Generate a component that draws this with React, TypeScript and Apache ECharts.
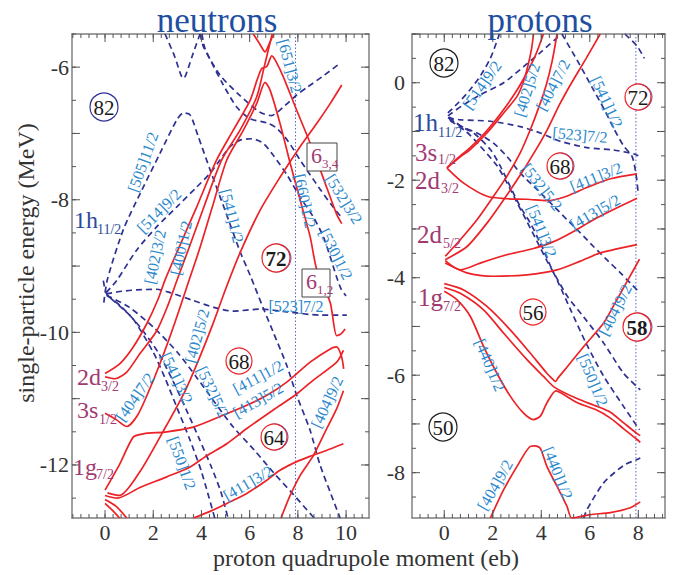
import React, { useEffect, useRef } from "react";
import * as echarts from "echarts";

const FONT = '"Liberation Serif", "Times New Roman", serif';
const RED = "#ec2227";
const NAVY = "#2e3192";
const LABEL_BLUE = "#2a88cc";
const PURPLE = "#a23a72";
const TITLE_BLUE = "#1f4fa0";
const FRAME = "#808080";
const TICK = "#555555";

// ---------- axes ----------
const NEUTRON_X_RANGE = [-1.37, 10.95];
const NEUTRON_Y_RANGE = [-12.8, -5.5];
const PROTON_X_RANGE = [-1.33, 9.1];
const PROTON_Y_RANGE = [-8.93, 1.0];
const NEUTRON_X_LABELS = [0, 2, 4, 6, 8, 10];
const PROTON_X_LABELS = [0, 2, 4, 6, 8];
const NEUTRON_Y_LABELS = [-12, -10, -8, -6];
const PROTON_Y_LABELS = [-8, -6, -4, -2, 0];
const Q_MARK = 7.9;

// ---------- neutrons: positive parity (red, solid) ----------
const n2d32Upper = [[0,-10.62],[0.62,-10.47],[1.17,-10.22],[1.73,-9.87],[2.2,-9.5],[2.5,-9.2],[3.08,-8.71],[3.8,-8.11],[4.63,-7.4],[5.32,-6.95],[6.02,-6.5],[6.3,-6.2],[6.5,-6.02],[6.71,-5.99],[6.92,-5.83],[7.1,-5.92],[7.4,-6.15],[7.95,-6.65],[8.37,-7.02],[8.78,-7.4],[9.2,-7.82],[9.61,-8.22],[9.82,-8.36]];
const n2d32Lower = [[0,-10.67],[0.41,-10.7],[0.9,-10.6],[1.45,-10.32],[2.14,-9.98],[2.6,-9.6],[3.0,-9.2],[3.5,-8.71],[4.1,-8.11],[4.84,-7.4],[5.6,-6.95],[6.29,-6.45],[6.6,-6.0],[6.92,-5.52],[6.94,-5.5]];
const n3s12 = [[0,-11.22],[0.48,-11.32],[0.9,-11.42],[1.35,-11.25],[1.8,-10.9],[2.3,-10.45],[2.9,-9.85],[3.5,-9.2],[3.95,-8.71],[4.45,-8.11],[5.05,-7.4],[5.74,-6.95],[6.29,-6.55],[6.64,-6.23],[6.85,-6.35],[7.26,-6.85],[7.68,-7.45],[8.09,-8.0],[8.51,-8.56],[8.78,-9.05],[9.34,-9.55],[9.61,-10.05],[9.8,-10.02],[9.96,-9.95]];
const nTopV = [[6.15,-5.5],[6.4,-5.64],[6.64,-5.77],[6.82,-5.64],[7.0,-5.5]];
const n402_52 = [[0.1,-12.42],[0.6,-12.46],[1.45,-12.1],[2.4,-11.5],[3.3,-10.9],[3.9,-10.4],[4.5,-9.85],[5.0,-9.35],[5.6,-8.8],[6.43,-8.16],[7.26,-7.66],[8.09,-7.2],[8.78,-6.85],[9.34,-6.55],[9.82,-6.27]];
const n1gA = [[0,-12.38],[0.62,-11.98],[1.17,-11.58],[1.59,-11.53],[2.56,-11.5],[3.66,-11.43],[4.77,-11.27],[5.88,-11.1],[6.71,-10.95],[7.54,-10.75],[8.51,-10.45],[9.34,-10.25],[9.6,-10.22],[9.8,-10.35],[9.9,-10.55]];
const n1gB = [[0,-12.46],[0.5,-12.5],[1.45,-12.34],[2.56,-12.18],[3.53,-12.03],[4.22,-11.86],[5.05,-11.68],[5.88,-11.45],[6.98,-11.17],[7.95,-10.93],[8.64,-10.72],[9.61,-10.45],[9.89,-10.27]];
const n1gC = [[0,-12.52],[0.45,-12.62],[0.9,-12.8]];
const n1gD = [[0,-12.58],[0.35,-12.7],[0.6,-12.8]];
const n411_32 = [[3.66,-12.8],[4.36,-12.7],[5.05,-12.58],[5.88,-12.43],[6.71,-12.23],[7.26,-12.08],[7.95,-11.95],[8.5,-11.87],[9.34,-11.76],[9.89,-11.68]];
const n404_92 = [[7.3,-12.8],[7.68,-12.46],[8.09,-12.16],[8.64,-11.86],[9.2,-11.45],[9.61,-11.15],[9.89,-10.88]];

// ---------- neutrons: negative parity (navy, dashed) ----------
const nTopDashV = [[2.49,-5.5],[2.9,-5.85],[3.15,-6.12],[3.25,-6.17],[3.35,-6.12],[3.6,-5.85],[3.94,-5.5]];
const nUpperArc = [[3.95,-5.5],[4.08,-5.69],[4.77,-6.12],[5.6,-6.43],[6.43,-6.68],[6.9,-6.73],[7.4,-6.6],[7.95,-6.42],[8.4,-6.3],[9.1,-6.12],[9.75,-5.94]];
const n532_32 = [[4.02,-5.5],[4.15,-5.72],[4.88,-6.25],[5.46,-6.6],[6.02,-6.78],[6.71,-6.84],[7.12,-6.92],[7.6,-7.12],[8.09,-7.4],[8.5,-7.62],[8.92,-7.84],[9.4,-8.08],[9.82,-8.27]];
const n505_541 = [[-0.05,-9.55],[0.1,-9.2],[0.76,-8.45],[1.52,-7.86],[2.28,-7.3],[2.97,-6.8],[3.25,-6.69],[3.53,-6.72],[3.87,-7.05],[4.36,-7.55],[4.98,-8.16],[5.6,-8.78],[6.02,-9.14],[6.57,-9.64],[6.98,-10.0],[7.54,-10.5],[7.95,-10.95],[8.5,-11.47],[8.92,-12.0],[9.34,-12.41],[9.75,-12.8]];
const n514_530 = [[0.05,-9.4],[0.48,-9.22],[1.31,-8.76],[2.14,-8.41],[2.97,-8.11],[3.8,-7.81],[4.36,-7.6],[4.77,-7.4],[5.19,-7.2],[5.6,-7.1],[6.09,-7.08],[6.57,-7.15],[6.98,-7.33],[7.54,-7.62],[8.09,-7.96],[8.64,-8.26],[9.06,-8.56],[9.34,-8.86],[9.61,-9.17],[9.8,-9.35],[10.0,-9.45]];
const n523_72 = [[0.05,-9.42],[0.7,-9.38],[1.31,-9.36],[2.14,-9.35],[2.7,-9.4],[3.66,-9.52],[4.49,-9.62],[5.3,-9.68],[6.43,-9.65],[7.54,-9.69],[8.92,-9.74],[10.03,-9.74]];
const n541_32 = [[-0.07,-9.22],[0.07,-9.42],[0.6,-9.6],[1.17,-9.8],[2.0,-10.3],[2.5,-10.7],[3.0,-11.15],[3.5,-11.6],[4.0,-12.1],[4.55,-12.8]];
const n550_12 = [[0.07,-9.44],[0.7,-9.62],[1.45,-9.92],[2.2,-10.3],[2.8,-10.72],[3.35,-11.15],[3.9,-11.6],[4.4,-12.02],[4.8,-12.4],[5.1,-12.8]];
const n532_52 = [[0.07,-9.44],[1.0,-9.62],[2.0,-9.92],[3.0,-10.3],[3.8,-10.68],[4.5,-11.03],[5.3,-11.42],[6.2,-11.78],[7.0,-12.12],[7.8,-12.44],[8.6,-12.77],[8.68,-12.8]];

// ---------- protons: positive parity ----------
const p3s12A = [[0.11,-1.75],[0.66,-1.52],[1.07,-1.37],[1.76,-1.03],[2.45,-0.62],[3.0,-0.28],[3.25,0.0],[3.45,0.35],[3.6,0.7],[3.68,1.0]];
const p3s12B = [[0.11,-1.74],[0.66,-1.5],[1.07,-1.33],[1.76,-0.98],[2.45,-0.55],[3.0,-0.15],[3.4,0.2],[3.75,0.55],[4.09,1.0]];
const p402_52 = [[0.04,-3.56],[0.66,-3.22],[1.35,-2.81],[2.03,-2.33],[2.58,-1.92],[3.13,-1.44],[3.55,-0.96],[3.9,-0.5],[4.2,-0.05],[4.45,0.45],[4.65,1.0]];
const p404_72 = [[0.04,-3.63],[0.94,-3.36],[1.76,-2.88],[2.45,-2.4],[3.1,-1.92],[3.7,-1.44],[4.25,-0.96],[4.75,-0.45],[5.25,0.0],[5.85,0.5],[6.43,1.0]];
const p411_32 = [[0.11,-1.75],[0.8,-2.06],[1.76,-2.33],[2.58,-2.38],[3.41,-2.39],[4.23,-2.42],[4.92,-2.35],[5.88,-2.15],[6.85,-1.97],[7.95,-1.87]];
const p413_52 = [[0.04,-3.65],[0.66,-3.84],[1.48,-3.7],[2.58,-3.53],[3.68,-3.4],[4.51,-3.26],[5.33,-3.05],[6.15,-2.81],[6.98,-2.6],[7.95,-2.37]];
const p2d52Low = [[0.04,-3.7],[0.93,-3.9],[2.03,-3.97],[3.41,-3.94],[4.65,-3.84],[5.61,-3.66],[6.43,-3.49],[7.12,-3.41],[7.95,-3.32]];
const p1gA = [[0,-4.12],[0.8,-4.25],[1.76,-4.59],[2.72,-5.07],[3.55,-5.55],[4.23,-5.96],[4.51,-6.1],[4.58,-6.13],[4.7,-6.05],[5.2,-5.75],[5.75,-5.41],[6.57,-4.93],[7.12,-4.45],[7.6,-4.02],[8.05,-3.62]];
const p1gB = [[0,-4.2],[0.66,-4.32],[1.62,-4.66],[2.45,-5.14],[3.41,-5.68],[4.1,-6.03],[4.55,-6.25],[5.47,-6.48],[6.3,-6.64],[6.85,-6.76],[7.4,-6.98],[7.95,-7.2],[8.08,-7.24]];
const p440_12 = [[0,-4.28],[0.52,-4.45],[1.07,-4.79],[1.62,-5.41],[2.17,-5.96],[2.72,-6.43],[3.27,-6.78],[3.68,-6.91],[3.96,-6.84],[4.23,-6.57],[4.6,-6.32],[4.8,-6.36],[5.47,-6.56],[6.3,-6.72],[6.85,-6.88],[7.4,-7.1],[7.95,-7.32],[8.08,-7.38]];
const pBottom = [[1.9,-8.93],[2.45,-8.35],[3.0,-7.87],[3.55,-7.46],[3.75,-7.45],[3.96,-7.5],[4.23,-7.87],[4.65,-8.28],[5.06,-8.69],[5.26,-8.93],[6.02,-8.86],[6.85,-8.82],[7.67,-8.72],[8.08,-8.6]];

// ---------- protons: negative parity ----------
const p514_92 = [[0.15,-0.62],[0.6,-0.4],[1.07,-0.14],[1.5,0.15],[1.9,0.5],[2.24,0.95],[2.27,1.0]];
const p505_112 = [[0.15,-0.68],[0.8,-0.45],[1.48,-0.25],[2.45,0.0],[3.27,0.33],[3.96,0.62],[4.6,0.9],[4.82,1.0]];
const p523_72 = [[0.15,-0.72],[0.66,-0.76],[1.9,-0.79],[3.13,-0.9],[3.96,-1.03],[4.78,-1.2],[5.88,-1.33],[6.98,-1.38],[7.81,-1.46],[8.0,-1.5]];
const p541_12 = [[4.85,1.0],[5.47,0.47],[6.1,-0.1],[6.6,-0.55],[7.0,-0.95],[7.4,-1.3],[7.75,-1.52],[7.92,-1.93],[8.0,-2.3]];
const pTopRight = [[7.45,1.0],[7.95,0.75],[8.25,0.5]];
const p532_52 = [[0.2,-0.75],[0.8,-0.92],[1.35,-1.03],[2.03,-1.24],[2.58,-1.51],[3.13,-1.85],[3.82,-2.19],[4.51,-2.53],[5.06,-2.81],[5.61,-3.08],[6.15,-3.36],[6.7,-3.63],[7.26,-3.9],[7.67,-4.11],[8.05,-4.3]];
const p550_12 = [[0.2,-0.7],[0.7,-0.9],[1.21,-1.03],[1.9,-1.37],[2.31,-1.71],[2.72,-2.13],[3.13,-2.54],[3.55,-2.88],[3.96,-3.29],[4.37,-3.75],[4.7,-4.1],[5.2,-4.65],[5.88,-5.38],[6.57,-6.02],[7.39,-6.64],[7.95,-7.05],[8.05,-7.12]];
const p541_32 = [[0.25,-0.78],[0.9,-1.0],[1.48,-1.3],[2.17,-1.7],[2.58,-2.05],[2.99,-2.45],[3.41,-2.85],[3.82,-3.25],[4.23,-3.65],[4.65,-4.02],[5.1,-4.4],[5.74,-4.8],[6.57,-5.34],[7.39,-5.96],[8.08,-6.3]];
const pBottomDash = [[5.75,-8.93],[5.88,-8.76],[6.57,-8.21],[7.4,-7.85],[7.95,-7.73],[8.08,-7.7]];

const NEUTRON_RED = [n2d32Upper, n2d32Lower, n3s12, nTopV, n402_52, n1gA, n1gB, n1gC, n1gD, n411_32, n404_92];
const NEUTRON_DASHED = [nTopDashV, nUpperArc, n532_32, n505_541, n514_530, n523_72, n541_32, n550_12, n532_52];
const PROTON_RED = [p3s12A, p3s12B, p402_52, p404_72, p411_32, p413_52, p2d52Low, p1gA, p1gB, p440_12, pBottom];
const PROTON_DASHED = [p514_92, p505_112, p523_72, p541_12, pTopRight, p532_52, p550_12, p541_32, pBottomDash];

// ---------- annotations (pixel placement) ----------
const NEUTRON_NILSSON: [string, number, number, number][] = [
  ["[651]3/2", 290, 66, -75], ["[505]11/2", 143, 162, 70], ["[514]9/2", 159, 211, 45],
  ["[402]3/2", 155, 257, 78], ["[400]1/2", 181, 248, 78], ["[541]1/2", 232, 216, -76],
  ["[660]1/2", 305, 201, -78], ["[532]3/2", 344, 199, -58], ["[530]1/2", 336, 254, -63],
  ["[523]7/2", 296, 306, 0], ["[404]7/2", 135, 397, 55], ["[541]3/2", 177, 378, -65],
  ["[402]5/2", 197, 336, 75], ["[532]5/2", 213, 392, -65], ["[550]1/2", 182, 463, -70],
  ["[411]1/2", 258, 377, 28], ["[413]5/2", 258, 400, 30], ["[411]3/2", 248, 483, 30],
  ["[404]9/2", 327, 402, 65],
];
const PROTON_NILSSON: [string, number, number, number][] = [
  ["[514]9/2", 482, 85, 55], ["[402]5/2", 527, 90, 73], ["[404]7/2", 553, 85, 62],
  ["[541]1/2", 607, 102, -65], ["[523]7/2", 580, 135, -5], ["[411]3/2", 596, 177, 22],
  ["[532]5/2", 542, 187, -52], ["[413]5/2", 595, 212, 30], ["[541]3/2", 542, 231, -68],
  ["[440]1/2", 490, 365, -67], ["[550]1/2", 593, 380, -67], ["[404]9/2", 615, 310, 63],
  ["[404]9/2", 495, 485, 60], ["[440]1/2", 558, 473, -68],
];
// text, cx, cy, r, stroke, bold, blue shadow
const MAGIC: [string, number, number, number, string, boolean, boolean][] = [
  ["82", 104, 107, 14, NAVY, false, false], ["72", 276, 258, 14, RED, true, true],
  ["68", 239, 361, 13, RED, false, false], ["64", 274, 437, 13, RED, false, true],
  ["82", 444, 63, 14, "#222", false, false], ["72", 638, 97, 13, RED, false, true],
  ["68", 560, 166, 13, RED, false, true], ["56", 533, 312, 13, RED, false, false],
  ["58", 637, 327, 14, RED, true, true], ["50", 443, 427, 14, "#222", false, false],
];
// main, sub, x, y, subX, subY, color, size
const SPHERICAL: [string, string, number, number, number, number, string, number][] = [
  ["1h", "11/2", 74, 220, 97, 229, "#2b4c9b", 24],
  ["2d", "3/2", 77, 377, 101, 386, PURPLE, 24],
  ["3s", "1/2", 77, 410, 99, 419, PURPLE, 24],
  ["1g", "7/2", 73, 467, 96, 474, PURPLE, 24],
  ["1h", "11/2", 413, 122, 438, 132, "#2b4c9b", 25],
  ["3s", "1/2", 415, 152, 438, 159, PURPLE, 25],
  ["2d", "3/2", 415, 180, 441, 188, PURPLE, 25],
  ["2d", "5/2", 417, 234, 443, 243, PURPLE, 25],
  ["1g", "7/2", 418, 297, 443, 306, PURPLE, 25],
];
// boxes: x, y, w, h, main, sub
const BOXES: [number, number, number, number, string, string][] = [
  [307, 143, 30, 28, "6", "3,4"],
  [302, 269, 28, 28, "6", "1,2"],
];

function steps(r: number[], step: number) {
  const out: number[] = [];
  const k0 = Math.ceil(r[0] / step - 1e-9);
  const k1 = Math.floor(r[1] / step + 1e-9);
  for (let k = k0; k <= k1; k++) out.push(+(k * step).toFixed(6));
  return out;
}

function makeAxes(gi: number, xr: number[], yr: number[], xl: number[], yl: number[], yMargin: number) {
  const base = (r: number[]) => ({
    type: "value", gridIndex: gi, min: r[0], max: r[1],
    splitLine: { show: false },
    axisTick: { show: false },
    axisLine: { show: true, onZero: false, lineStyle: { color: FRAME, width: 1.5 } },
  });
  const label = { fontFamily: FONT, fontSize: 22, color: "#333" };
  const fmt = (v: number) => String(Math.round(v));
  const xAxes = [
    { ...base(xr), position: "bottom", axisLabel: { ...label, margin: 3, customValues: xl, formatter: fmt } },
    { ...base(xr), position: "top", axisLabel: { show: false } },
  ];
  const yAxes = [
    { ...base(yr), position: "left", axisLabel: { ...label, margin: yMargin, customValues: yl, formatter: fmt } },
    { ...base(yr), position: "right", axisLabel: { show: false } },
  ];
  return { xAxes, yAxes };
}

// inward tick marks: [x, y, dx(px), dy(px)] anchored on the frame, drawn via the axes' scales
function tickData(xr: number[], yr: number[]) {
  const d: number[][] = [];
  const xs: [number[], number][] = [[steps(xr, 1 / 3), 4], [steps(xr, 2), 8]];
  xs.forEach(([vals, len]) => vals.forEach((v) => { d.push([v, yr[0], 0, -len]); d.push([v, yr[1], 0, len]); }));
  const ys: [number[], number][] = [[steps(yr, 0.5), 4], [steps(yr, 1), 8]];
  ys.forEach(([vals, len]) => vals.forEach((v) => { d.push([xr[0], v, len, 0]); d.push([xr[1], v, -len, 0]); }));
  return d;
}

function tickSeries(gi: number, xr: number[], yr: number[]) {
  return {
    type: "custom", xAxisIndex: gi * 2, yAxisIndex: gi * 2, silent: true, clip: false, z: 6,
    data: tickData(xr, yr),
    renderItem: (_p: any, api: any) => {
      const c = api.coord([api.value(0), api.value(1)]);
      return {
        type: "line",
        shape: { x1: c[0], y1: c[1], x2: c[0] + api.value(2), y2: c[1] + api.value(3) },
        style: { stroke: TICK, lineWidth: 1 },
      };
    },
  };
}

function lineSeries(data: number[][], dashed: boolean, gi: number) {
  return {
    type: "line", data, xAxisIndex: gi * 2, yAxisIndex: gi * 2,
    showSymbol: false, symbol: "none", smooth: 0.25, silent: true, clip: true,
    lineStyle: dashed
      ? { color: NAVY, width: 1.7, type: [6, 4] }
      : { color: RED, width: 1.7 },
    z: dashed ? 3 : 4,
  };
}

function text(x: number, y: number, t: string, opts: any = {}) {
  return {
    type: "text", x, y, z: 20, rotation: opts.rotation || 0, silent: true,
    style: {
      text: t, fill: opts.fill || "#222", fontSize: opts.fontSize || 16,
      fontFamily: FONT, fontWeight: opts.bold ? "bold" : "normal",
      align: opts.align || "center", verticalAlign: "middle",
    },
  };
}

export default function App() {
  const ref = useRef<HTMLDivElement>(null);
  useEffect(() => {
    if (!ref.current) return;
    const chart = echarts.init(ref.current, undefined, { renderer: "svg" });
    const a0 = makeAxes(0, NEUTRON_X_RANGE, NEUTRON_Y_RANGE, NEUTRON_X_LABELS, NEUTRON_Y_LABELS, 3);
    const a1 = makeAxes(1, PROTON_X_RANGE, PROTON_Y_RANGE, PROTON_X_LABELS, PROTON_Y_LABELS, 7);

    const series: any[] = [];
    NEUTRON_DASHED.forEach((d) => series.push(lineSeries(d, true, 0)));
    NEUTRON_RED.forEach((d) => series.push(lineSeries(d, false, 0)));
    PROTON_DASHED.forEach((d) => series.push(lineSeries(d, true, 1)));
    PROTON_RED.forEach((d) => series.push(lineSeries(d, false, 1)));
    [[0, NEUTRON_Y_RANGE], [1, PROTON_Y_RANGE]].forEach(([gi, yr]: any) => {
      series.push({
        type: "line", xAxisIndex: gi * 2, yAxisIndex: gi * 2, showSymbol: false, symbol: "none", silent: true,
        data: [[Q_MARK, yr[0]], [Q_MARK, yr[1]]],
        lineStyle: { color: "#5b66c9", width: 1, type: [1.5, 2] }, z: 2,
      });
    });
    series.push(tickSeries(0, NEUTRON_X_RANGE, NEUTRON_Y_RANGE));
    series.push(tickSeries(1, PROTON_X_RANGE, PROTON_Y_RANGE));

    const graphic: any[] = [];
    graphic.push(text(217, 20, "neutrons", { fontSize: 35, fill: TITLE_BLUE }));
    graphic.push(text(540, 20, "protons", { fontSize: 35, fill: TITLE_BLUE }));
    graphic.push(text(366, 558, "proton quadrupole moment (eb)", { fontSize: 24, fill: "#333" }));
    graphic.push(text(26, 263, "single-particle energy (MeV)", { fontSize: 24, fill: "#333", rotation: Math.PI / 2 }));

    [...NEUTRON_NILSSON, ...PROTON_NILSSON].forEach(([t, x, y, a]) => {
      graphic.push(text(x, y, t, { fontSize: 16, fill: LABEL_BLUE, rotation: (a * Math.PI) / 180 }));
    });

    MAGIC.forEach(([t, cx, cy, r, stroke, bold, shadow]) => {
      if (shadow) {
        graphic.push({ type: "circle", z: 18, silent: true, shape: { cx: cx + 1, cy, r }, style: { fill: "none", stroke: "#4a4fb0", lineWidth: 1 } });
      }
      graphic.push({ type: "circle", z: 19, silent: true, shape: { cx, cy, r }, style: { fill: "#fff", stroke, lineWidth: 1.2 } });
      graphic.push(text(cx, cy + 1, t, { fontSize: 21, fill: "#1a1a1a", bold }));
    });

    SPHERICAL.forEach(([m, s, x, y, sx, sy, c, fs]) => {
      graphic.push(text(x, y, m, { fontSize: fs, fill: c, align: "left" }));
      graphic.push(text(sx, sy, s, { fontSize: 14, fill: c, align: "left" }));
    });

    BOXES.forEach(([x, y, w, h, m, s]) => {
      graphic.push({ type: "rect", z: 18, silent: true, shape: { x, y, width: w, height: h }, style: { fill: "#fff", stroke: "#444", lineWidth: 1 } });
      graphic.push(text(x + 4, y + h / 2 - 2, m, { fontSize: 22, fill: PURPLE, align: "left" }));
      graphic.push(text(x + 15, y + h / 2 + 6, s, { fontSize: 13, fill: PURPLE, align: "left" }));
    });

    chart.setOption({
      animation: false,
      backgroundColor: "#fff",
      grid: [
        { left: 72, top: 34, width: 297, height: 484, containLabel: false },
        { left: 412, top: 34, width: 253, height: 484, containLabel: false },
      ],
      xAxis: [...a0.xAxes, ...a1.xAxes],
      yAxis: [...a0.yAxes, ...a1.yAxes],
      series,
      graphic,
    });
    return () => chart.dispose();
  }, []);
  return <div ref={ref} style={{ position: "absolute", left: 0, top: 0, width: 679, height: 575 }} />;
}
